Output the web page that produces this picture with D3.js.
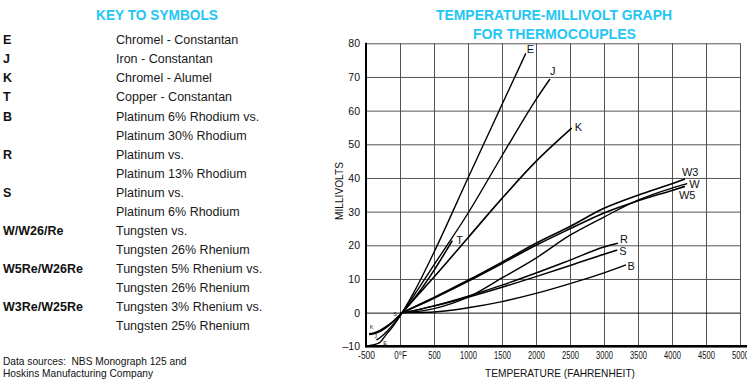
<!DOCTYPE html>
<html><head><meta charset="utf-8">
<script src="https://cdn.jsdelivr.net/npm/d3@7"></script>
<style>
html,body{margin:0;padding:0;background:#fff;}
svg{display:block;}
</style></head>
<body>
<svg id="chart" width="747" height="382"></svg>
<script>
// ---------- DATA ----------
const keySymbols = ["E","J","K","T","B","","R","","S","","W/W26/Re","","W5Re/W26Re","","W3Re/W25Re",""];
const keyDescriptions = ["Chromel - Constantan","Iron - Constantan","Chromel - Alumel","Copper - Constantan",
  "Platinum 6% Rhodium vs.","Platinum 30% Rhodium","Platinum vs.","Platinum 13% Rhodium",
  "Platinum vs.","Platinum 6% Rhodium","Tungsten vs.","Tungsten 26% Rhenium",
  "Tungsten 5% Rhenium vs.","Tungsten 26% Rhenium","Tungsten 3% Rhenium vs.","Tungsten 25% Rhenium"];
const sourceLines = ["Data sources:  NBS Monograph 125 and","Hoskins Manufacturing Company"];

const xTicks = [-500,0,500,1000,1500,2000,2500,3000,3500,4000,4500,5000];
const xTickLabels = ["-500","0°F","500","1000","1500","2000","2500","3000","3500","4000","4500","5000"];
const yTicks = [-10,0,10,20,30,40,50,60,70,80];
const yTickLabels = ["–10","0","10","20","30","40","50","60","70","80"];

// series: temperature (°F) and millivolts
const seriesNames = ["E","J","K","T","R","S","B","W3","W","W5"];
const tempE = [-454,-400,-300,-200,-100,0,32,200,500,1000,1500,1850];
const mvE   = [-9.84,-9.60,-8.93,-6.45,-3.99,-1.03,0,5.87,17.94,40.0,61.8,77.0];
const tempJ = [-346,-300,-200,-100,0,32,200,500,1000,1500,2000,2206];
const mvJ   = [-8.10,-7.52,-5.72,-3.49,-0.89,0,4.91,14.19,29.52,46.6,63.3,69.4];
const tempK = [-454,-400,-300,-200,-100,0,32,200,500,1000,1500,2000,2525];
const mvK   = [-6.46,-6.34,-5.63,-4.35,-2.69,-0.69,0,3.82,10.56,22.26,33.93,44.91,54.8];
const tempT = [-454,-400,-300,-200,-100,0,32,200,500,769];
const mvT   = [-6.26,-6.11,-5.34,-4.11,-2.58,-0.67,0,3.97,12.57,21.4];
const tempR = [0,32,200,500,1000,1500,2000,2500,3000,3206];
const mvR   = [-0.09,0,0.60,2.02,4.89,8.15,11.77,15.6,19.5,20.6];
const tempS = [0,32,200,500,1000,1500,2000,2500,3000,3195];
const mvS   = [-0.09,0,0.60,1.96,4.58,7.53,10.68,14.0,17.35,18.6];
const tempB = [32,200,500,1000,1500,2000,2500,3000,3324];
const mvB   = [0,0.02,0.19,1.44,3.28,5.71,8.63,11.83,14.2];
const tempW3 = [32,200,500,1000,1500,2000,2500,3000,3500,4000,4190];
const mvW3   = [0,1.6,4.5,9.6,15.0,20.6,25.6,31.0,34.9,38.3,39.7];
const tempW  = [32,200,500,1000,1500,2000,2500,3000,3500,4000,4225];
const mvW    = [0,0.2,1.2,4.6,10.3,16.2,23.0,28.4,33.4,37.0,38.3];
const tempW5 = [32,200,500,1000,1500,2000,2500,3000,3500,4000,4190];
const mvW5   = [0,1.5,4.3,9.3,14.6,20.0,24.9,29.6,33.2,36.3,37.5];

const curveLabels = ["E","J","K","T","R","S","B","W3","W","W5"];
const tinyLabels = ["K","J","E","S"];
const tinyTemps = [-445,-380,-245,-100];
const tinyMv = [-5.0,-7.4,-9.5,-1.0];

// ---------- DRAW ----------
const svg = d3.select("#chart");
const blue = "#24c6f3";
const SANS = "Liberation Sans, Arial, sans-serif";

svg.append("text").attr("x",157).attr("y",20).attr("text-anchor","middle")
  .attr("font-family",SANS).attr("font-weight","bold")
  .attr("font-size",15).attr("fill",blue)
  .attr("textLength",122).attr("lengthAdjust","spacingAndGlyphs").text("KEY TO SYMBOLS");

const key = svg.append("g").attr("font-family",SANS).attr("font-size",12.5).attr("fill","#111");
keySymbols.forEach((s,i)=>{
  const yb = 44.3 + i*19.05;
  if(s) key.append("text").attr("x",3).attr("y",yb).attr("font-weight","bold").text(s);
  key.append("text").attr("x",116).attr("y",yb).attr("fill","#1a1a1a").text(keyDescriptions[i]);
});
sourceLines.forEach((t,i)=>{
  svg.append("text").attr("x",3).attr("y",364.5+i*12).attr("font-family",SANS)
    .style("white-space","pre")
    .attr("font-size",10.2).attr("fill","#111").text(t);
});

// chart title
svg.append("text").attr("x",554).attr("y",20).attr("text-anchor","middle")
  .attr("font-family",SANS).attr("font-weight","bold")
  .attr("font-size",15).attr("fill",blue)
  .attr("textLength",236).attr("lengthAdjust","spacingAndGlyphs").text("TEMPERATURE-MILLIVOLT GRAPH");
svg.append("text").attr("x",554.5).attr("y",39.3).attr("text-anchor","middle")
  .attr("font-family",SANS).attr("font-weight","bold")
  .attr("font-size",15).attr("fill",blue)
  .attr("textLength",163).attr("lengthAdjust","spacingAndGlyphs").text("FOR THERMOCOUPLES");

const x = d3.scaleLinear().domain([-500,5000]).range([366,740]);
const y = d3.scaleLinear().domain([-10,80]).range([346.3,43.3]);

// grid via axes
const gx = svg.append("g").attr("transform",`translate(0,${y(-10)})`)
  .call(d3.axisBottom(x).tickValues(xTicks).tickSize(-(y(-10)-y(80))).tickFormat(""));
gx.select(".domain").remove();
gx.selectAll(".tick line").attr("stroke","#555").attr("stroke-width",1);

const gy = svg.append("g").attr("transform",`translate(${x(-500)},0)`)
  .call(d3.axisLeft(y).tickValues(yTicks).tickSize(-(x(5000)-x(-500))).tickFormat(""));
gy.select(".domain").remove();
gy.selectAll(".tick line").attr("stroke","#555").attr("stroke-width",1);
gy.selectAll(".tick").filter(d=>d===0).select("line").attr("stroke","#111");

// tick labels
const gxl = svg.append("g").attr("transform",`translate(0,${y(-10)})`)
  .call(d3.axisBottom(x).tickValues(xTicks).tickSize(0).tickPadding(9)
    .tickFormat((d,i)=>xTickLabels[i]));
gxl.select(".domain").remove();
gxl.selectAll("text").attr("font-family",SANS).attr("font-size",11.5).attr("fill","#111")
  .attr("dy","0.3em")
  .attr("textLength",(d,i)=>xTickLabels[i].length*4.2).attr("lengthAdjust","spacingAndGlyphs");

const gyl = svg.append("g").attr("transform",`translate(${x(-500)},0)`)
  .call(d3.axisLeft(y).tickValues(yTicks).tickSize(0).tickPadding(6)
    .tickFormat((d,i)=>yTickLabels[i]));
gyl.select(".domain").remove();
gyl.selectAll("text").attr("font-family",SANS).attr("font-size",10.5).attr("fill","#111")
  .attr("dy","0.35em");

// axis lines
svg.append("line").attr("x1",x(-500)).attr("x2",x(-500)).attr("y1",y(80)-0.5).attr("y2",y(-10)+1)
  .attr("stroke","#000").attr("stroke-width",2);
svg.append("line").attr("x1",x(-500)-1).attr("x2",747).attr("y1",y(-10)).attr("y2",y(-10))
  .attr("stroke","#000").attr("stroke-width",2.6);

// axis titles
svg.append("text").attr("x",560).attr("y",377).attr("text-anchor","middle")
  .attr("font-family",SANS).attr("font-size",10.5).attr("fill","#111")
  .attr("textLength",150).attr("lengthAdjust","spacingAndGlyphs").text("TEMPERATURE (FAHRENHEIT)");
svg.append("text").attr("transform","translate(343,191) rotate(-90)").attr("text-anchor","middle")
  .attr("font-family",SANS).attr("font-size",10.5).attr("fill","#111")
  .attr("textLength",58).attr("lengthAdjust","spacingAndGlyphs").text("MILLIVOLTS");

// curves
const seriesTemps = [tempE,tempJ,tempK,tempT,tempR,tempS,tempB,tempW3,tempW,tempW5];
const seriesMv = [mvE,mvJ,mvK,mvT,mvR,mvS,mvB,mvW3,mvW,mvW5];
const line = d3.line().x(d=>x(d[0])).y(d=>y(d[1])).curve(d3.curveMonotoneX);
const labelOffsets = {E:[1,0],J:[0,-4],K:[3,2.5],T:[4,3],R:[2,-0.5],S:[2,5],B:[1.5,5],W3:[-3,-3],W:[2,4],W5:[-6,12.7]};
seriesNames.forEach((n,i)=>{
  const pts = seriesTemps[i].map((t,j)=>[t,seriesMv[i][j]]);
  svg.append("path").datum(pts).attr("d",line).attr("fill","none").attr("stroke","#000")
    .attr("stroke-width", (n==="K"||n==="T"||n==="W3"||n==="W5")?1.6:1.4);
  const last = pts[pts.length-1];
  const off = labelOffsets[curveLabels[i]];
  svg.append("text").attr("x",x(last[0])+off[0]).attr("y",y(last[1])+off[1])
    .attr("font-family",SANS).attr("font-size",11).attr("fill","#111")
    .text(curveLabels[i]);
});
tinyLabels.forEach((t,i)=>{
  svg.append("text").attr("x",x(tinyTemps[i])).attr("y",y(tinyMv[i]))
    .attr("font-family",SANS).attr("font-size",5.5).attr("fill","#222").text(t);
});
</script>
</body></html>
